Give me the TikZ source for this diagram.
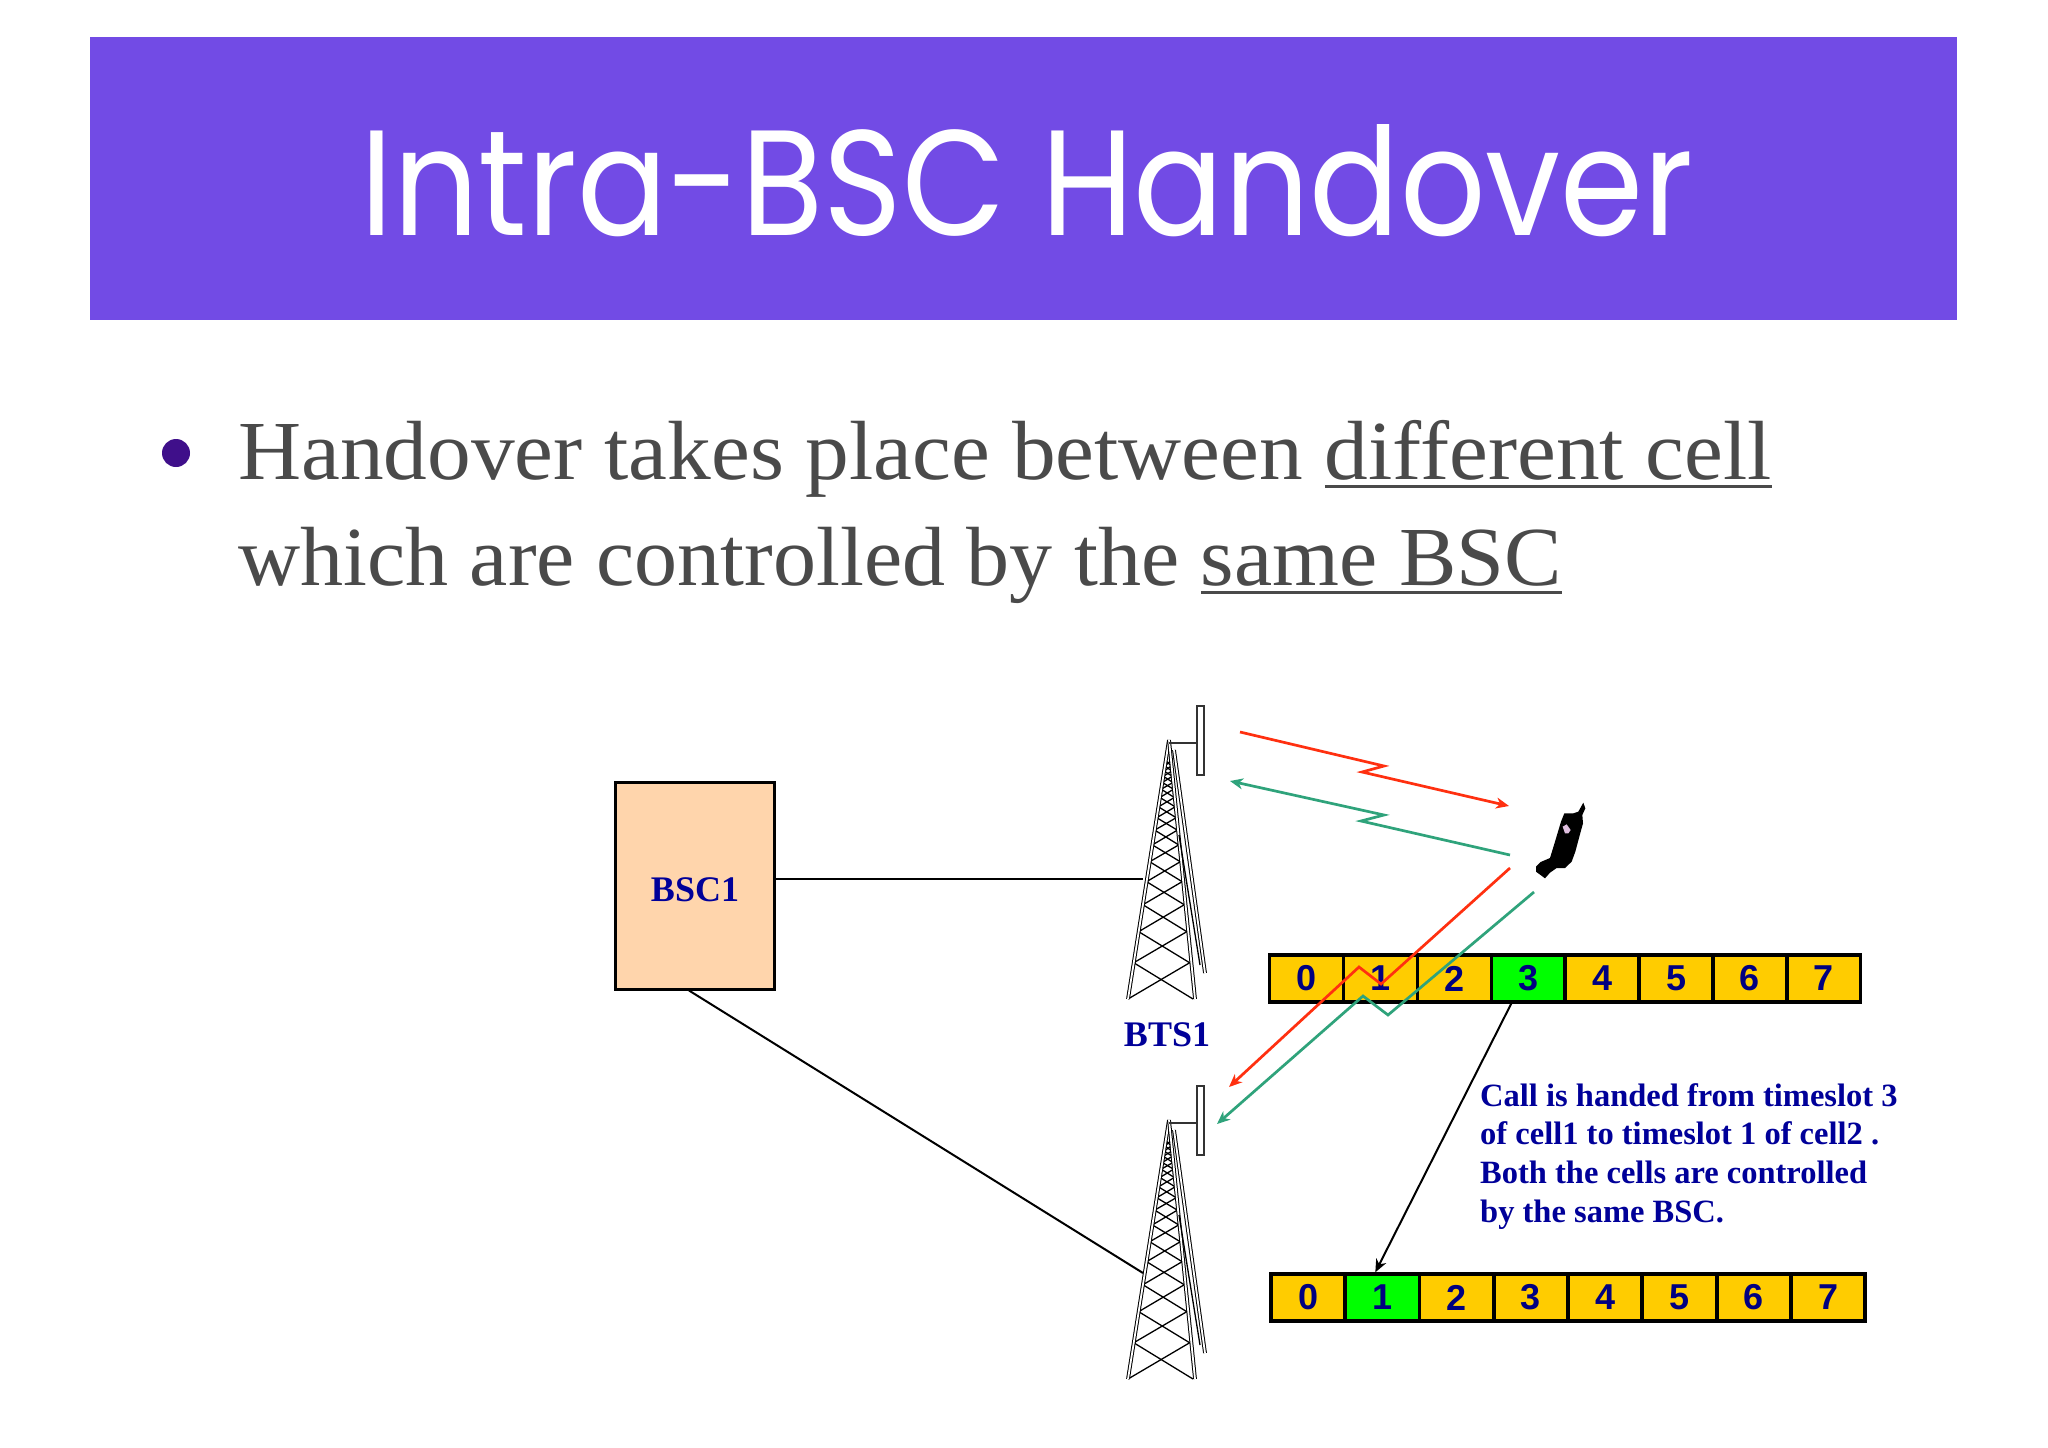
\documentclass[tikz,border=0pt]{standalone}
\usepackage{fontspec}
\usepackage{graphicx}
\setmainfont{Liberation Serif}
\newfontfamily\titlefont{Poppins}
\newfontfamily\slotfont{Liberation Sans}
\usetikzlibrary{positioning,arrows.meta}
\definecolor{banner}{HTML}{724BE5}
\definecolor{bodygrey}{HTML}{4A4A4A}
\definecolor{bulletpurple}{HTML}{3F0F8A}
\definecolor{peach}{HTML}{FFD5AC}
\definecolor{labelblue}{HTML}{000099}
\definecolor{slotblue}{HTML}{000080}
\definecolor{slotamber}{HTML}{FFCC00}
\definecolor{slotgreen}{HTML}{00FF00}
\definecolor{sigred}{HTML}{FF3010}
\definecolor{siggreen}{HTML}{2FA37B}
\newsavebox\ulsave
\newcommand{\ulin}[1]{\sbox\ulsave{#1}\rlap{\usebox\ulsave}\rule[-9pt]{\wd\ulsave}{2.8pt}}
\tikzset{
  >={Stealth[length=13pt,width=11pt,inset=4pt]},
  slot/.style={
    draw,
    line width=3.4pt,
    fill=slotamber,
    text=slotblue,
    minimum width=73.9pt,
    minimum height=47pt,
    inner sep=0pt,
    font=\slotfont\bfseries\fontsize{36}{36}\selectfont
  },
  sloton/.style={
    slot,
    fill=slotgreen
  },
  redsig/.style={
    draw=sigred,
    line width=2.7pt
  },
  greensig/.style={
    draw=siggreen,
    line width=2.7pt
  },
  towerleg/.style={
    double,
    double distance=1.8pt,
    line width=1pt
  },
  towerbar/.style={
    line width=1.3pt
  },
  tower/.pic={
    \foreach \a/\b in {1/.86,.86/.74,.74/.636,.636/.547,.547/.47,.47/.405,.405/.348,.348/.3,.3/.258,.258/.222,.222/.19,.19/.164,.164/.14,.14/.12,.12/.1,.1/.08} {
      \draw[towerbar] (-41*\a,259*\a) -- (24*\b,259*\b);
      \draw[towerbar] (24*\a,259*\a) -- (-41*\b,259*\b);
    }
    \draw[towerleg] (0,0) -- (-41,259);
    \draw[towerleg] (0,0) -- (26,259);
    \draw[towerleg] (5,10) -- (36,233);
    \draw[line width=1.3pt] (10,95) -- (31,225);
    \draw[line width=1.2pt,draw=black!80] (0,3) -- (28,3);
    \draw[line width=1.2pt,draw=black!80,fill=white] (28,-34) rectangle (35,35);
  }
}
\begin{document}
\begin{tikzpicture}[
    x=1pt,
    y=-1pt,
    every node/.style={inner sep=0pt}
  ]
  \useasboundingbox (0,0) rectangle (2048,1448);
  \fill[white] (0,0) rectangle (2048,1448);
  \fill[banner] (90,37) rectangle (1957,320);
  \node[anchor=base,text=white,font=\titlefont\fontsize{150}{150}\selectfont] (title) at (1027,235) {\scalebox{.892}[1]{Intra-BSC Handover}};

  \node[circle,fill=bulletpurple,minimum size=28pt] (dot) at (176,453) {};
  \node[anchor=base west,text=bodygrey,font=\fontsize{84}{94}\selectfont] (line1) at (238,479) {\scalebox{1.04}[1]{Handover takes place between \ulin{different cell}}};
  \node[anchor=base west,text=bodygrey,font=\fontsize{84}{94}\selectfont] (line2) at (238,585) {\scalebox{1.024}[1]{which are controlled by the \ulin{same BSC}}};

  \node[draw,line width=3pt,fill=peach,minimum width=159pt,minimum height=207pt] (bsc1) at (695,885.5) {};
  \node[text=labelblue,font=\bfseries\fontsize{36}{36}\selectfont] (bsc1label) at (695,890) {BSC1};

  \pic (bts1) at (1169,740) {tower};
  \pic (bts2) at (1169,1120) {tower};
  \node[text=labelblue,font=\bfseries\fontsize{36}{36}\selectfont] (bts1label) at (1167,1035) {BTS1};

  \coordinate (bts1link) at (1143,879);
  \coordinate (bts2link) at (1143,1273);
  \draw[line width=2pt] (bsc1.east |- bts1link) -- (bts1link);
  \draw[line width=2pt] ([xshift=-6pt]bsc1.south) -- (bts2link);

  \node[slot] (a0) at (1306.5,978.5) {0};
  \foreach \i/\sty [count=\j from 0] in {1/slot,2/slot,3/sloton,4/slot,5/slot,6/slot,7/slot}
    \node[\sty,right of=a\j,node distance=73.9pt] (a\i) {\i};
  \node[slot] (b0) at (1308,1297.5) {0};
  \foreach \i/\sty [count=\j from 0] in {1/sloton,2/slot,3/slot,4/slot,5/slot,6/slot,7/slot}
    \node[\sty,right of=b\j,node distance=74.3pt] (b\i) {\i};

  \coordinate (red1a) at (1240,732);
  \coordinate (red1b) at (1509,806);
  \coordinate (green1a) at (1510,855);
  \coordinate (green1b) at (1230,781);
  \coordinate (red2a) at (1510,868);
  \coordinate (red2b) at (1229,1087);
  \coordinate (green2a) at (1534,892);
  \coordinate (green2b) at (1217,1124);
  \draw[redsig,->] (red1a) -- (1384,766) -- (1362,772) -- (red1b);
  \draw[greensig,->] (green1a) -- (1361,821) -- (1384,815) -- (green1b);
  \draw[redsig,->] (red2a) -- (1381,984) -- (1359,967) -- (red2b);
  \draw[greensig,->] (green2a) -- (1388,1015) -- (1363,996) -- (green2b);

  \draw[line width=2pt,->] ([xshift=-17pt]a3.south) -- ([xshift=-7pt]b1.north);

  \node[anchor=north west,align=left,text=labelblue,font=\bfseries\fontsize{32.5}{38.8}\selectfont] (note) at (1480,1083) {Call is handed from timeslot 3\\of cell1 to timeslot 1 of cell2 .\\Both the cells are controlled\\by the same BSC.};

  \begin{scope}[shift={(1500,780)},x=0.3333pt,y=-0.3333pt]
    \fill (250,68) -- (256,85) -- (247,105) -- (249,130) -- (238,170) -- (226,215) -- (215,245) -- (195,264) -- (170,264) -- (150,278) -- (135,295) -- (108,275) -- (108,260) -- (122,246) -- (150,234) -- (162,195) -- (183,125) -- (193,100) -- (220,100) -- (235,95) -- cycle;
    \fill[violet!25] (188,140) -- (200,133) -- (212,150) -- (205,160) -- (195,160) -- cycle;
  \end{scope}
\end{tikzpicture}
\end{document}
